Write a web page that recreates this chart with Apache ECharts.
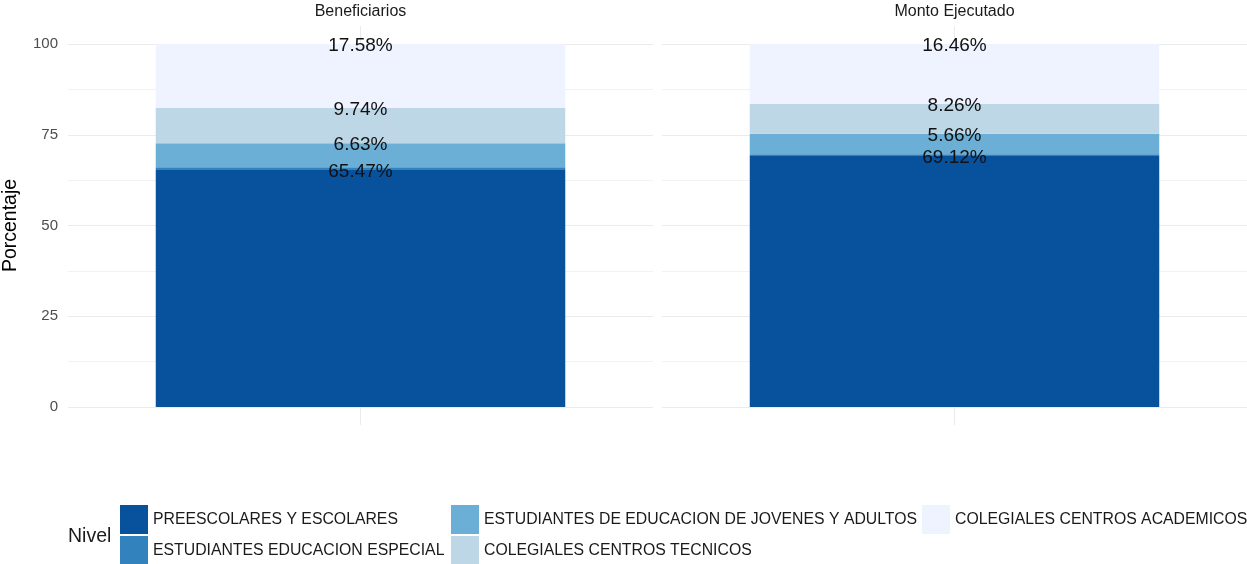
<!DOCTYPE html>
<html>
<head>
<meta charset="utf-8">
<script src="https://cdn.jsdelivr.net/npm/echarts@6/dist/echarts.min.js"></script>
<style>
  html, body { margin: 0; padding: 0; background: #fff; }
  #main { width: 1247px; height: 564px; }
</style>
</head>
<body>
<div id="main"></div>
<script>
  // niveles (orden de apilado, de abajo hacia arriba)
  const niveles = [
    'PREESCOLARES Y ESCOLARES',
    'ESTUDIANTES EDUCACION ESPECIAL',
    'ESTUDIANTES DE EDUCACION DE JOVENES Y ADULTOS',
    'COLEGIALES CENTROS TECNICOS',
    'COLEGIALES CENTROS ACADEMICOS'
  ]
  const paneles = ['Beneficiarios', 'Monto Ejecutado']
  const beneficiarios = [65.47, 0.58, 6.63, 9.74, 17.58]
  const montoEjecutado = [69.12, 0.50, 5.66, 8.26, 16.46]
  const mostrarEtiqueta = [true, false, true, true, true]
  const yTicks = [0, 25, 50, 75, 100]
  const colores = ['#08519c', '#3182bd', '#6baed6', '#bdd7e7', '#eff3ff']

  const font = 'Liberation Sans, Arial, sans-serif'
  const panelLeft = [68, 662]
  const panelWidth = 585
  const valores = [beneficiarios, montoEjecutado]

  let grids = []
  let xAxes = []
  let yAxes = []
  let series = []
  let titles = []

  paneles.forEach((p, i) => {
    grids.push({ left: panelLeft[i], width: panelWidth, top: 44, height: 363 })
    // el tick hacia adentro hace de linea vertical de la grilla (panel expandido 5%)
    xAxes.push({
      type: 'category', gridIndex: i, data: [''], offset: 18,
      axisLine: { show: false, onZero: false },
      axisLabel: { show: false },
      axisTick: { show: true, inside: true, alignWithLabel: true, length: 399, lineStyle: { color: '#ebebeb' } }
    })
    yAxes.push({
      type: 'value', gridIndex: i, min: 0, max: 100, interval: 25,
      name: i === 0 ? 'Porcentaje' : '',
      nameLocation: 'middle', nameGap: 47, nameRotate: 90,
      nameTextStyle: { fontFamily: font, fontSize: 19.5, color: '#000' },
      axisLine: { show: false },
      axisTick: { show: false },
      axisLabel: {
        show: i === 0, margin: 10, fontFamily: font, fontSize: 15, color: '#4d4d4d',
        formatter: v => yTicks.includes(v) ? String(v) : ''
      },
      splitLine: { show: true, lineStyle: { color: '#ebebeb', width: 1 } },
      minorTick: { show: false, splitNumber: 2 },
      minorSplitLine: { show: true, lineStyle: { color: '#f2f2f2', width: 1 } }
    })
    titles.push({
      text: p, left: panelLeft[i] + panelWidth / 2, top: 4, textAlign: 'center', padding: 0,
      textStyle: { fontFamily: font, fontSize: 16, fontWeight: 'normal', color: '#1a1a1a' }
    })
    niveles.forEach((n, k) => {
      series.push({
        name: n, type: 'bar', stack: 'p' + i,
        xAxisIndex: i, yAxisIndex: i,
        barWidth: '70%',
        data: [valores[i][k]],
        itemStyle: { color: colores[k] },
        label: {
          show: mostrarEtiqueta[k],
          position: ['50%', 2],
          align: 'center', verticalAlign: 'middle',
          fontFamily: font, fontSize: 19, color: '#111',
          formatter: d => d.value.toFixed(2) + '%'
        },
        emphasis: { disabled: true }
      })
    })
  })

  titles.push({
    text: 'Nivel', left: 68, top: 527, padding: 0,
    textStyle: { fontFamily: font, fontSize: 19.5, fontWeight: 'normal', color: '#1a1a1a' }
  })

  // leyenda en columnas como ggplot
  const legPos = [[120, 505], [120, 536], [451, 505], [451, 536], [922, 505]]
  let legends = niveles.map((n, k) => ({
    data: [n], left: legPos[k][0], top: legPos[k][1], padding: 0,
    icon: 'rect', itemWidth: 28, itemHeight: 29, itemGap: 0,
    textStyle: { fontFamily: font, fontSize: 15.8, color: '#1a1a1a' }
  }))

  let myChart = echarts.init(document.querySelector('#main'))
  myChart.setOption({
    animation: false,
    title: titles,
    legend: legends,
    grid: grids,
    xAxis: xAxes,
    yAxis: yAxes,
    series: series
  })
</script>
</body>
</html>
